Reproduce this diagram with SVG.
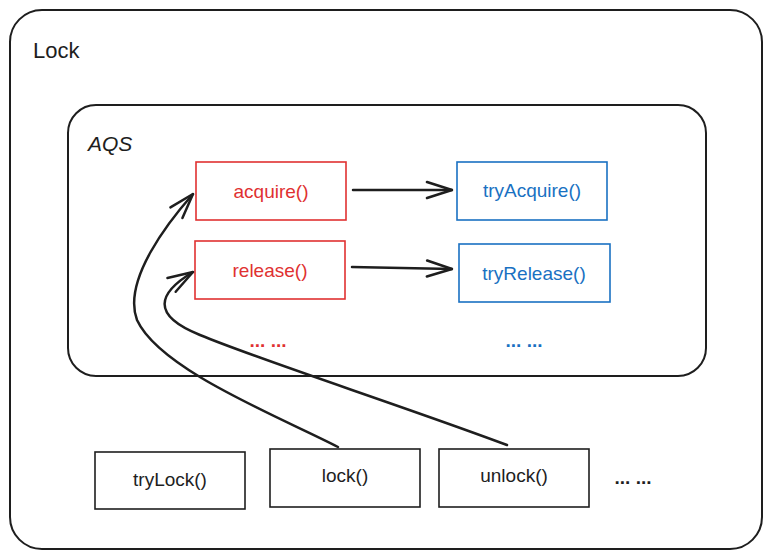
<svg xmlns="http://www.w3.org/2000/svg" width="771" height="559" viewBox="0 0 771 559">
<style>
  .frame { fill: none; stroke: #1e1e1e; stroke-width: 2; }
  .box { fill: none; stroke-width: 1.6; }
  .red { stroke: #e03131; }
  .blue { stroke: #1971c2; }
  .blk { stroke: #1e1e1e; }
  text { font-family: "Liberation Sans", "Open Sans", sans-serif; font-size: 19px; text-anchor: middle; dominant-baseline: central; }
  .tred { fill: #e03131; }
  .tblue { fill: #1971c2; }
  .tblk { fill: #1e1e1e; }
  .dots { font-weight: bold; }
  .conn { fill: none; stroke: #1e1e1e; stroke-width: 2.5; stroke-linecap: round; }
</style>
<defs>
  <marker id="head" viewBox="0 0 28 20" refX="27" refY="10" markerWidth="28" markerHeight="20" markerUnits="userSpaceOnUse" orient="auto">
    <path d="M2,2 L27,10 L2,18" fill="none" stroke="#1e1e1e" stroke-width="2.5" stroke-linecap="round" stroke-linejoin="round"/>
  </marker>
</defs>
<rect width="771" height="559" fill="#ffffff"/>
<g id="lock-frame">
  <rect class="frame" x="10" y="10" width="752" height="539" rx="32"/>
  <text class="tblk" x="33" y="50" style="text-anchor:start;font-size:22px">Lock</text>
</g>
<g id="aqs-frame">
  <rect class="frame" x="68" y="105" width="638" height="271" rx="28"/>
  <text class="tblk" x="88" y="143" style="text-anchor:start;font-size:21px;font-style:italic">AQS</text>
</g>
<g id="acquire">
  <rect class="box red" x="196" y="162" width="150" height="58"/>
  <text class="tred" x="271" y="191">acquire()</text>
</g>
<g id="release">
  <rect class="box red" x="195" y="241" width="150" height="58"/>
  <text class="tred" x="270" y="270">release()</text>
</g>
<g id="red-dots">
  <text class="tred dots" x="268" y="340">... ...</text>
</g>
<g id="tryAcquire">
  <rect class="box blue" x="457" y="162" width="150" height="58"/>
  <text class="tblue" x="532" y="190">tryAcquire()</text>
</g>
<g id="tryRelease">
  <rect class="box blue" x="459" y="244" width="151" height="58"/>
  <text class="tblue" x="534" y="273">tryRelease()</text>
</g>
<g id="blue-dots">
  <text class="tblue dots" x="524" y="340">... ...</text>
</g>
<g id="tryLock">
  <rect class="box blk" x="95" y="452" width="150" height="57"/>
  <text class="tblk" x="170" y="479">tryLock()</text>
</g>
<g id="lockm">
  <rect class="box blk" x="270" y="449" width="150" height="58"/>
  <text class="tblk" x="345" y="475">lock()</text>
</g>
<g id="unlock">
  <rect class="box blk" x="439" y="449" width="150" height="58"/>
  <text class="tblk" x="514" y="475">unlock()</text>
</g>
<g id="bottom-dots">
  <text class="tblk dots" x="633" y="477">... ...</text>
</g>
<g id="connectors">
  <path class="conn" d="M353,190 L452,190" marker-end="url(#head)"/>
  <path class="conn" d="M352,267 L452,269" marker-end="url(#head)"/>
  <path class="conn" d="M338,447 C280,417 160,370 137,320 C122,280 170,220 193,194" marker-end="url(#head)"/>
  <path class="conn" d="M507,445 C400,405 260,360 200,335 C150,315 158,293 193,272" marker-end="url(#head)"/>
</g>
</svg>
